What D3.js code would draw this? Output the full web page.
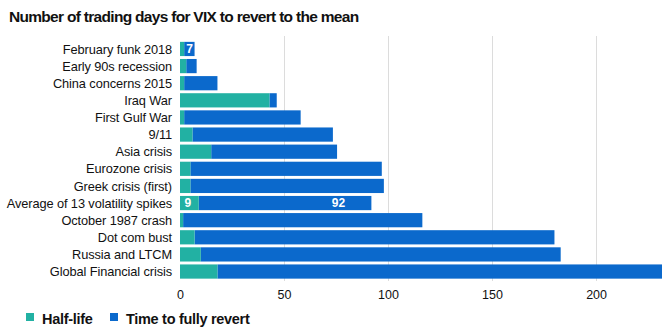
<!DOCTYPE html>
<html lang="en">
<head>
    <meta charset="UTF-8">
    <title>VIX mean reversion</title>
    <script src="https://d3js.org/d3.v7.min.js"></script>
    <style>
        body { margin: 0; background: #fff; font-family: "Liberation Sans", Arial, sans-serif; }
        .grid line { stroke: #dcdcdc; stroke-width: 1px; }
        .cat { font-size: 12.8px; fill: #111; letter-spacing: -0.1px; }
        .tick-label { font-size: 12.5px; fill: #111; }
        .title { font-size: 15.5px; font-weight: bold; fill: #111; letter-spacing: -0.7px; }
        .legend { font-size: 14.5px; font-weight: bold; fill: #111; letter-spacing: -0.3px; }
        .val { font-size: 12px; font-weight: bold; fill: #fff; }
    </style>
</head>
<body>
    <svg width="662" height="329"></svg>
    <script>
        const categories = [
            "February funk 2018", "Early 90s recession", "China concerns 2015", "Iraq War",
            "First Gulf War", "9/11", "Asia crisis", "Eurozone crisis", "Greek crisis (first)",
            "Average of 13 volatility spikes", "October 1987 crash", "Dot com bust",
            "Russia and LTCM", "Global Financial crisis"
        ];
        const halfLife = [2, 3, 2, 43, 2, 6, 15, 5, 5, 9, 1.5, 7, 10, 18];
        const fullRevert = [7, 8, 18, 46.5, 58, 73.5, 75.5, 97, 98, 92, 116.5, 180, 183, 252];
        const xTicks = [0, 50, 100, 150, 200];
        const labelled = { "February funk 2018": [null, 7], "Average of 13 volatility spikes": [9, 92] };

        const svg = d3.select("svg");
        const tealColor = "#22b1a3", blueColor = "#0b69cc";

        const x = d3.scaleLinear().domain([0, 231.7]).range([180, 662]);
        const y = d3.scaleBand().domain(categories).range([41, 279.5]).paddingInner(0.17).paddingOuter(0.05);

        svg.append("text").attr("class", "title").attr("x", 9).attr("y", 22)
            .text("Number of trading days for VIX  to revert to the mean");

        svg.append("g").attr("class", "grid")
            .selectAll("line").data(xTicks.slice(1)).join("line")
            .attr("x1", d => Math.round(x(d)) + 0.5).attr("x2", d => Math.round(x(d)) + 0.5)
            .attr("y1", 36).attr("y2", 281);

        const rows = categories.map((c, i) => ({ c, h: halfLife[i], t: fullRevert[i] }));

        const g = svg.append("g");
        g.selectAll(".blue").data(rows).join("rect")
            .attr("x", d => x(d.h)).attr("y", d => y(d.c))
            .attr("width", d => x(d.t) - x(d.h)).attr("height", y.bandwidth())
            .attr("fill", blueColor);
        g.selectAll(".teal").data(rows).join("rect")
            .attr("x", x(0)).attr("y", d => y(d.c))
            .attr("width", d => x(d.h) - x(0)).attr("height", y.bandwidth())
            .attr("fill", tealColor);

        svg.selectAll(".cat").data(categories).join("text")
            .attr("class", "cat").attr("x", 172).attr("y", d => y(d) + y.bandwidth() / 2)
            .attr("dy", "0.36em").attr("text-anchor", "end").text(d => d);

        // value labels inside bars
        Object.entries(labelled).forEach(([c, [h, t]]) => {
            const cy = y(c) + y.bandwidth() / 2;
            if (h !== null) {
                svg.append("text").attr("class", "val").attr("x", x(h) - 11).attr("y", cy)
                    .attr("dy", "0.36em").attr("text-anchor", "middle").text(h);
            }
            svg.append("text").attr("class", "val")
                .attr("x", c === "February funk 2018" ? x(t) - 5 : x(t) - 33).attr("y", cy)
                .attr("dy", "0.36em").attr("text-anchor", "middle").text(t);
        });

        const xAxis = d3.axisBottom(x).tickValues(xTicks).tickSize(0).tickPadding(0);
        const ax = svg.append("g").attr("transform", "translate(0,290)").call(xAxis);
        ax.select(".domain").remove();
        ax.selectAll("text").attr("class", "tick-label").attr("font-family", null).attr("font-size", null);

        const legendItems = [["Half-life", tealColor], ["Time to fully revert", blueColor]];
        const lg = svg.append("g").attr("transform", "translate(0,320)");
        const lx = [26, 110];
        legendItems.forEach(([name, col], i) => {
            lg.append("rect").attr("x", lx[i]).attr("y", -7).attr("width", 8).attr("height", 8).attr("fill", col);
            lg.append("text").attr("class", "legend").attr("x", lx[i] + 16).attr("y", 0)
                .attr("dy", "0.3em").text(name);
        });
    </script>
</body>
</html>
